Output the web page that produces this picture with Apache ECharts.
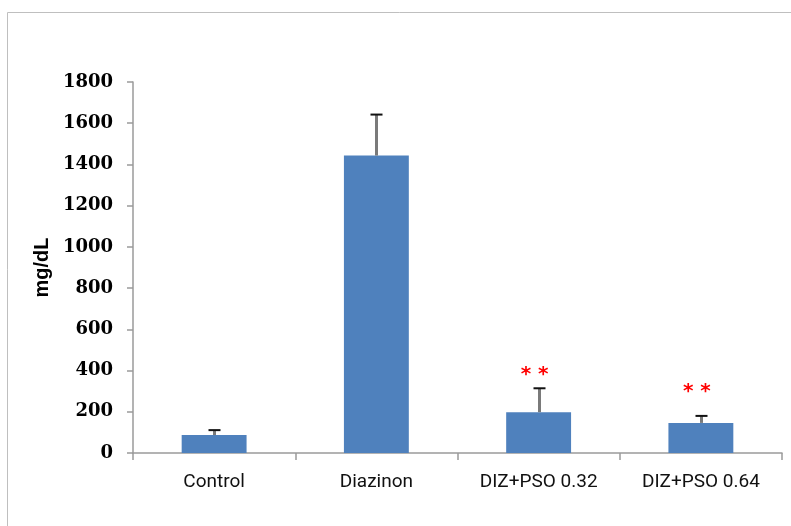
<!DOCTYPE html>
<html>
<head>
<meta charset="utf-8">
<script src="https://cdn.jsdelivr.net/npm/echarts@6/dist/echarts.min.js"></script>
<style>html,body{margin:0;padding:0;background:#fff}#c{width:791px;height:526px}</style>
</head>
<body>
<div id="c"></div>
<script>
var categories = ['Control', 'Diazinon', 'DIZ+PSO 0.32', 'DIZ+PSO 0.64'];
var means = [87, 1443, 198, 146];
var errorTops = [111, 1642, 314, 180];
var signif = ['', '', '**', '**'];
var signifValues = [null, null, 392, 310];
var yTicks = { min: 0, max: 1800, interval: 200 };

var chart = echarts.init(document.getElementById('c'));
chart.setOption({
  animation: false,
  backgroundColor: '#fff',
  graphic: [{
    type: 'rect', shape: { x: 7.5, y: 12.5, width: 820, height: 560 },
    style: { fill: 'none', stroke: '#bfbfbf', lineWidth: 1 }, silent: true
  }],
  grid: { left: 133, right: 9, top: 82, bottom: 73 },
  xAxis: {
    type: 'category', data: categories,
    axisLine: { lineStyle: { color: '#9a9a9a', width: 1.5 } },
    axisTick: { show: true, length: 7, lineStyle: { color: '#9a9a9a', width: 1.5 } },
    axisLabel: { color: '#111', fontFamily: 'Roboto', fontSize: 19, margin: 20 }
  },
  yAxis: {
    type: 'value', min: yTicks.min, max: yTicks.max, interval: yTicks.interval,
    name: 'mg/dL', nameLocation: 'middle', nameRotate: 90, nameGap: 80,
    nameTextStyle: { color: '#000', fontFamily: 'Liberation Sans', fontWeight: 'bold', fontSize: 20 },
    axisLine: { show: true, lineStyle: { color: '#9a9a9a', width: 1.5 } },
    axisTick: { show: true, length: 6, lineStyle: { color: '#9a9a9a', width: 1.5 } },
    splitLine: { show: false },
    axisLabel: {
      color: '#000', fontFamily: 'DejaVu Serif', fontWeight: 'bold', fontSize: 18, margin: 20,
      formatter: function (v) { return String(v); }
    }
  },
  series: [{
    type: 'bar', data: means, barWidth: '40%',
    itemStyle: { color: '#4F81BD' }, z: 2
  }, {
    type: 'custom', z: 3,
    data: errorTops.map(function (t, i) { return [i, means[i], t]; }),
    renderItem: function (params, api) {
      var base = api.coord([api.value(0), api.value(1)]);
      var top = api.coord([api.value(0), api.value(2)]);
      var x = Math.round(base[0]) + 0.5;
      return { type: 'group', children: [
        { type: 'line', shape: { x1: x, y1: base[1], x2: x, y2: top[1] }, style: { stroke: '#7a7a7a', lineWidth: 3 } },
        { type: 'line', shape: { x1: x - 6, y1: top[1], x2: x + 6, y2: top[1] }, style: { stroke: '#111', lineWidth: 2 } }
      ] };
    }
  }, {
    type: 'custom', z: 4,
    data: signifValues.map(function (v, i) { return [i, v == null ? 0 : v, signif[i]]; }),
    renderItem: function (params, api) {
      var i = params.dataIndex;
      if (!signif[i]) return null;
      var p = api.coord([api.value(0), api.value(1)]);
      return { type: 'text', x: p[0] - 4, y: p[1] + 3, style: {
        text: signif[i].split('').join(' '), fill: '#ff0000', font: 'bold 20px "DejaVu Sans"',
        align: 'center', verticalAlign: 'middle'
      } };
    }
  }]
});
</script>
</body>
</html>
